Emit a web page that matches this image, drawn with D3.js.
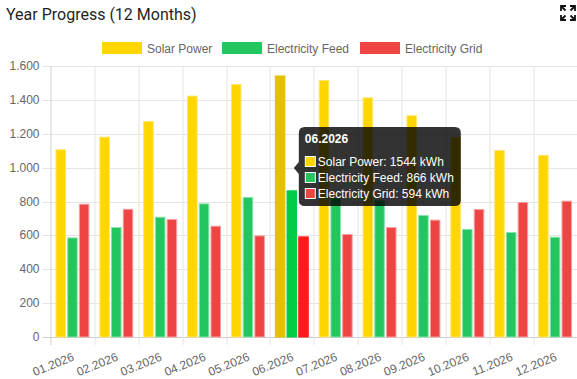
<!DOCTYPE html>
<html>
<head>
  <meta charset="UTF-8">
  <script src="https://d3js.org/d3.v7.min.js"></script>
  <style>
    body { margin: 0; background: #fff; }
  </style>
</head>
<body>
  <div id="chart"></div>
  <script>
    // data

    const months = ["01.2026", "02.2026", "03.2026", "04.2026", "05.2026", "06.2026",
                    "07.2026", "08.2026", "09.2026", "10.2026", "11.2026", "12.2026"];
    const solarPower       = [1108, 1183, 1275, 1425, 1494, 1544, 1517, 1415, 1309, 1181, 1104, 1075];
    const electricityFeed  = [588, 649, 710, 789, 827, 866, 821, 809, 720, 638, 620, 592];
    const electricityGrid  = [787, 757, 697, 657, 600, 594, 608, 649, 693, 756, 797, 805];
    const seriesNames = ["Solar Power", "Electricity Feed", "Electricity Grid"];
    const yTicks = [0, 200, 400, 600, 800, 1000, 1200, 1400, 1600];
    const hoverIndex = 5;
    const unit = "kWh";

    const seriesValues = [solarPower, electricityFeed, electricityGrid];
    const fills   = ["#FFD600", "#22C55E", "#EF4444"];
    const borders = ["#FFE46A", "#86E3A8", "#F7A0A0"];
    const hovers  = ["#E3C100", "#00CC45", "#FF1A1A"];

    // set up

    const W = 577, H = 379;
    const margin = { top: 66, right: 0, bottom: 42, left: 50.5 };
    const width = W - margin.left - margin.right;
    const height = 337 - margin.top;

    const svg = d3.select('#chart')
      .append('svg')
        .attr('width', W)
        .attr('height', H)
        .style('font-family', '"Liberation Sans", Arial, sans-serif');

    const de = d3.formatLocale({ decimal: ",", thousands: ".", grouping: [3], currency: ["", "€"] });
    const fmt = de.format(",d");

    // title
    svg.append('text')
        .attr('x', 6).attr('y', 20)
        .style('font-family', 'Roboto, "Noto Sans", sans-serif')
        .style('font-size', '16px')
        .attr('fill', '#1f1f1f')
        .text('Year Progress (12 Months)');

    // expand icon
    const icon = svg.append('g')
        .attr('transform', 'translate(561,6)')
        .attr('stroke', '#111').attr('stroke-width', 1.8).attr('fill', 'none');
    icon.append('path').attr('d', 'M0,5 V0 H5 M0,0 L4.5,4.5');
    icon.append('path').attr('d', 'M14,5 V0 H9 M14,0 L9.5,4.5');
    icon.append('path').attr('d', 'M0,9 V14 H5 M0,14 L4.5,9.5');
    icon.append('path').attr('d', 'M14,9 V14 H9 M14,14 L9.5,9.5');

    // legend
    const legendX = [102, 222, 360];
    const legend = svg.append('g');
    seriesNames.forEach((name, i) => {
      legend.append('rect')
          .attr('x', legendX[i]).attr('y', 42)
          .attr('width', 40).attr('height', 12)
          .attr('fill', fills[i]);
      legend.append('text')
          .attr('x', legendX[i] + 45).attr('y', 52.5)
          .style('font-size', '12px')
          .attr('fill', '#666')
          .text(name);
    });

    const g = svg.append('g')
        .attr('transform', `translate(${margin.left},${margin.top})`);

    // scales

    const x = d3.scaleBand()
        .domain(months)
        .range([0, width])
        .paddingInner(0.2)
        .paddingOuter(0.1);

    const xSub = d3.scaleBand()
        .domain(seriesNames)
        .range([0, x.bandwidth()])
        .paddingInner(0.1)
        .paddingOuter(0.05);

    const y = d3.scaleLinear()
        .domain([0, 1600])
        .range([height, 0]);

    // grid
    const step = x.step();
    const bounds = d3.range(months.length + 1).map(i => i * step);

    g.append('g').selectAll('line')
      .data(yTicks)
      .join('line')
        .attr('x1', -8).attr('x2', width)
        .attr('y1', d => Math.round(y(d)) + 0.5)
        .attr('y2', d => Math.round(y(d)) + 0.5)
        .attr('stroke', d => d === 0 ? '#cfcfcf' : '#e4e4e4');

    g.append('g').selectAll('line')
      .data(bounds)
      .join('line')
        .attr('x1', d => Math.round(d) + 0.5).attr('x2', d => Math.round(d) + 0.5)
        .attr('y1', 0).attr('y2', height + 8)
        .attr('stroke', (d, i) => i === 0 ? '#cfcfcf' : '#e4e4e4');

    // axes labels
    g.append('g').selectAll('text')
      .data(yTicks)
      .join('text')
        .attr('x', -11)
        .attr('y', d => y(d) + 4)
        .attr('text-anchor', 'end')
        .style('font-size', '12px')
        .attr('fill', '#666')
        .text(d => fmt(d));

    g.append('g').selectAll('text')
      .data(months)
      .join('text')
        .attr('transform', d => `translate(${x(d) + x.bandwidth() / 2 + 1},${height + 19}) rotate(-22)`)
        .attr('text-anchor', 'end')
        .attr('dy', '0.35em')
        .style('font-size', '12px')
        .attr('fill', '#666')
        .text(d => d);

    // bars
    seriesNames.forEach((name, s) => {
      g.append('g').selectAll('rect')
        .data(months)
        .join('rect')
          .attr('x', d => x(d) + xSub(name) + 0.5)
          .attr('y', (d, i) => y(seriesValues[s][i]) + 0.5)
          .attr('width', xSub.bandwidth() - 1)
          .attr('height', (d, i) => height - y(seriesValues[s][i]) - 0.5)
          .attr('fill', (d, i) => i === hoverIndex ? hovers[s] : fills[s])
          .attr('stroke', (d, i) => i === hoverIndex ? hovers[s] : borders[s])
          .attr('stroke-width', 1);
    });

    // tooltip
    const tipX = x(months[hoverIndex]) + x.bandwidth() / 2 + 7;
    const tipY = 127 - margin.top;
    const tipW = 162, tipH = 79;
    const tip = g.append('g').attr('transform', `translate(${tipX},${tipY})`);
    tip.append('path')
        .attr('d', `M6,0 H${tipW - 6} Q${tipW},0 ${tipW},6 V${tipH - 6} Q${tipW},${tipH} ${tipW - 6},${tipH} H6 Q0,${tipH} 0,${tipH - 6} V47 L-5,41 L0,35 V6 Q0,0 6,0 Z`)
        .attr('fill', 'rgba(0,0,0,0.8)');
    tip.append('text')
        .attr('x', 6).attr('y', 16)
        .style('font-size', '12px').style('font-weight', 'bold')
        .attr('fill', '#fff')
        .text(months[hoverIndex]);
    seriesNames.forEach((name, s) => {
      const ly = 29 + s * 16;
      tip.append('rect')
          .attr('x', 6.5).attr('y', ly + 0.5)
          .attr('width', 10).attr('height', 10)
          .attr('fill', fills[s])
          .attr('stroke', '#fff').attr('stroke-width', 1);
      tip.append('text')
          .attr('x', 19).attr('y', ly + 10)
          .style('font-size', '12px')
          .attr('fill', '#fff')
          .text(`${name}: ${seriesValues[s][hoverIndex]} ${unit}`);
    });
  </script>
</body>
</html>
